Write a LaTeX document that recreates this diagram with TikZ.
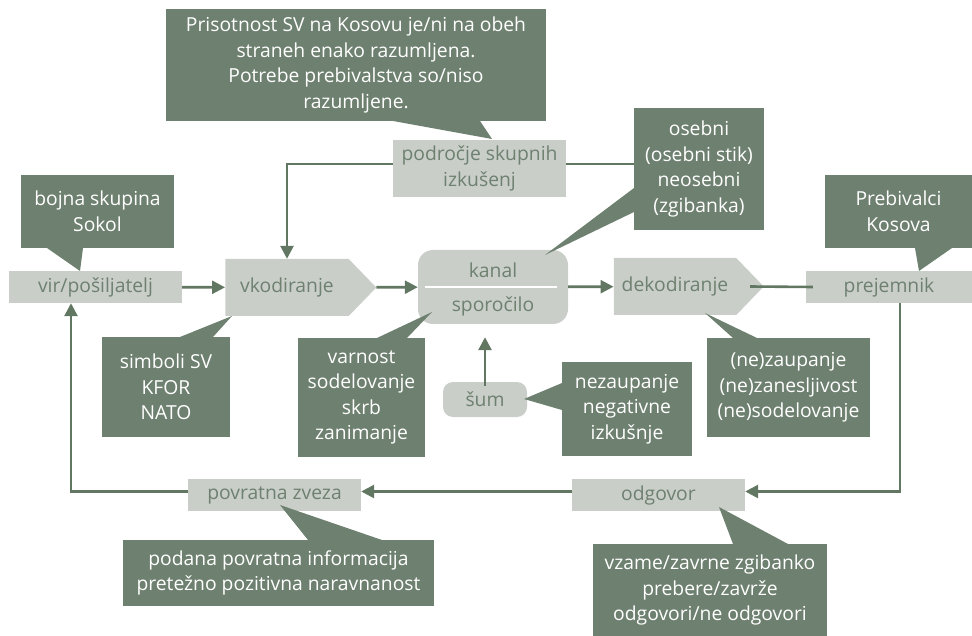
\documentclass[tikz,border=0pt]{standalone}
\usepackage{fontspec}
\setmainfont{Open Sans}
\usetikzlibrary{arrows.meta,shapes.symbols,calc}

\definecolor{kfgreen}{HTML}{6E806F}
\definecolor{kfgrey}{HTML}{C9CEC9}
\definecolor{kfline}{HTML}{627762}

\tikzset{
  box/.style={fill=kfgrey, text=kfgreen, inner sep=0pt, align=center,
    font=\fontsize{19.3}{25.5}\selectfont},
  note/.style={fill=kfgreen, text=white, inner sep=0pt, align=center,
    font=\fontsize{19.3}{25.5}\selectfont},
  coder/.style={box, shape=signal, signal to=east, signal from=nowhere,
    signal pointer angle=92},
  tail/.style={fill=kfgreen},
  flow/.style={draw=kfline, line width=2.6pt, -{Triangle[length=13pt,width=13pt]}},
  link/.style={draw=kfline, line width=2.6pt},
}

\begin{document}
\begin{tikzpicture}[x=1pt,y=-1pt]
\useasboundingbox (0,0) rectangle (972,636);

% callouts
\node[note, minimum width=380pt, minimum height=112pt] (presence) at (356,65)
  {Prisotnost SV na Kosovu je/ni na obeh\\straneh enako razumljena.\\Potrebe prebivalstva so/niso\\razumljene.};
\node[note, minimum width=153pt, minimum height=73pt] (sokol) at (97.5,211.5) {bojna skupina\\Sokol};
\node[note, minimum width=147pt, minimum height=73pt] (residents) at (898.5,211.5) {Prebivalci\\Kosova};
\node[note, minimum width=130pt, minimum height=122pt] (personal) at (699,169) {osebni\\(osebni stik)\\neosebni\\(zgibanka)};
\node[note, minimum width=128pt, minimum height=100pt] (symbols) at (166,387) {simboli SV\\KFOR\\NATO};
\node[note, minimum width=127pt, minimum height=119pt] (values) at (361.5,397.5) {varnost\\sodelovanje\\skrb\\zanimanje};
\node[note, minimum width=130pt, minimum height=94pt] (distrust) at (627,409) {nezaupanje\\negativne\\izkušnje};
\node[note, minimum width=163pt, minimum height=99pt] (trust) at (788.5,387.5) {(ne)zaupanje\\(ne)zanesljivost\\(ne)sodelovanje};
\node[note, minimum width=311pt, minimum height=66pt] (given) at (278.5,573) {podana povratna informacija\\pretežno pozitivna naravnanost};
\node[note, minimum width=234pt, minimum height=92pt] (reply) at (710,590) {vzame/zavrne zgibanko\\prebere/zavrže\\odgovori/ne odgovori};

% process
\node[box, minimum width=173pt, minimum height=57pt] (field) at (479.5,168.5) {področje skupnih\\izkušenj};
\node[box, minimum width=173pt, minimum height=32pt] (source) at (95.5,287) {vir/pošiljatelj};
\node[coder, minimum width=151pt, minimum height=57pt] (encode) at (287,287.5) {vkodiranje};
\node[box, rounded corners=15pt, minimum width=150pt, minimum height=74pt] (channel) at (493,287) {};
\node[box] (channeltxt) at ($(channel.center)+(0,-17)$) {kanal};
\node[box, fill=none] (message) at ($(channel.center)+(0,19)$) {sporočilo};
\node[coder, minimum width=150pt, minimum height=57pt] (decode) at (675,286.5) {dekodiranje};
\node[box, minimum width=166pt, minimum height=32pt] (receiver) at (889,287) {prejemnik};
\node[box, rounded corners=10pt, minimum width=84pt, minimum height=35pt] (noise) at (485,399.5) {šum};
\node[box, minimum width=173pt, minimum height=32pt] (answer) at (658.5,495) {odgovor};
\node[box, minimum width=173pt, minimum height=32pt] (feedback) at (274.5,495) {povratna zveza};

\draw[white, line width=2pt] ($(channel.west)+(7,0)$) -- ($(channel.east)+(-11,0)$);

% connectors
\draw[flow] (source) -- (encode);
\draw[flow] (encode) -- (channel);
\draw[flow] (channel) -- (decode);
\draw[link] ([xshift=-14pt]decode.east) -- ([xshift=7pt]receiver.west);
\draw[flow] ([yshift=4.5pt]field.west) -| (encode.north);
\draw[link] ([yshift=4.5pt]field.east) -- ([yshift=4.5pt]field.east -| personal.west);
\draw[flow, shorten <=-4pt, shorten >=13pt] (noise.north) -- (noise |- channel.south);
\draw[flow] ([xshift=11pt]receiver.south) |- ([yshift=3.5pt]answer.east);
\draw[flow] ([yshift=3.5pt]answer.west) -- ([yshift=3.5pt]feedback.east);
\draw[flow] ([yshift=3.5pt]feedback.west) -| ([xshift=-24.5pt]source.south);

% tails
\fill[tail] (393,121) -- (480,121) -- (492,139) -- cycle;
\fill[tail] (47,248) -- (83,248) -- (80,271) -- cycle;
\fill[tail] (915,248) -- (952,248) -- (919,271) -- cycle;
\fill[tail] (634,188) -- (634,212) -- (545,255) -- cycle;
\fill[tail] (180,337) -- (213,337) -- (232,316) -- cycle;
\fill[tail] (377,338) -- (407,338) -- (432,312) -- cycle;
\fill[tail] (562,383) -- (562,410) -- (524,399) -- cycle;
\fill[tail] (733,338) -- (757,338) -- (705,313) -- cycle;
\fill[tail] (308,540) -- (382,540) -- (280,505) -- cycle;
\fill[tail] (733,544) -- (788,544) -- (719,507) -- cycle;
\end{tikzpicture}
\end{document}
